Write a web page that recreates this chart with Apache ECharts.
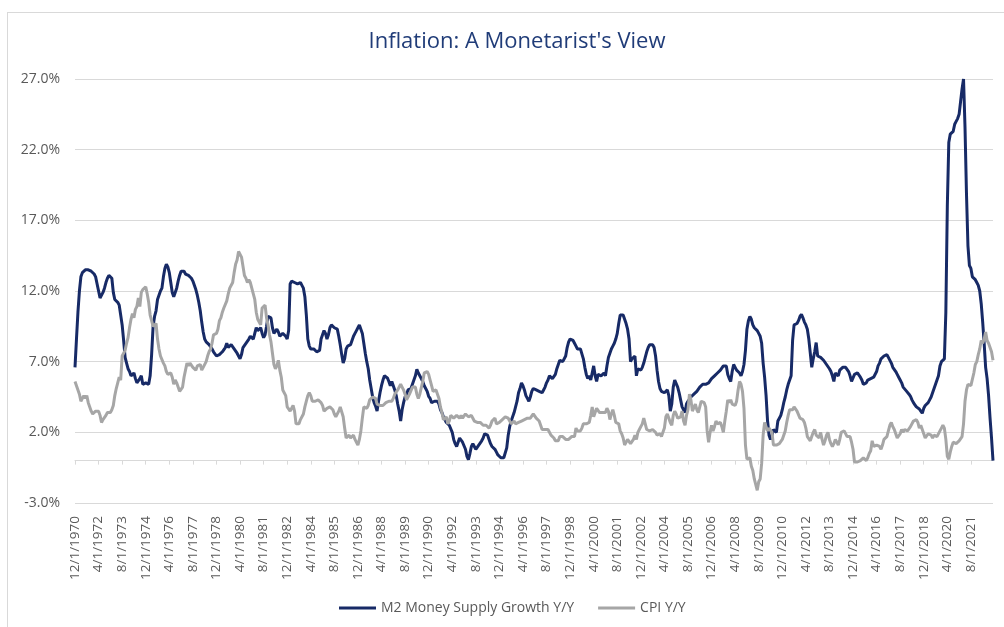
<!DOCTYPE html>
<html><head><meta charset="utf-8">
<script src="https://cdn.jsdelivr.net/npm/echarts@6/dist/echarts.min.js"></script>
<style>
html,body{margin:0;padding:0;background:#fff;overflow:hidden;width:1004px;height:627px;}
#frame{position:absolute;left:7px;top:12px;width:1100px;height:700px;border:1px solid #d9d9d9;}
#chart{position:absolute;left:0;top:0;width:1004px;height:627px;}
</style></head><body>
<div id="frame"></div>
<div id="chart"></div>
<script>
// Monthly series, Dec 1970 .. Nov 2022
const startYear = 1970;
const startMonth = 12;

const m2Growth = [
 6.6,
 8.6, 10.5, 12.0, 13.0, 13.3, 13.4, 13.5, 13.4, 13.5, 13.5, 13.4, 13.3,
 13.2, 13.0, 12.5, 12.0, 11.5, 11.6, 11.9, 12.2, 12.6, 12.9, 13.1, 13.1,
 12.9, 11.9, 11.4, 11.3, 11.2, 11.0, 10.3, 9.6, 8.5, 7.3, 6.9, 6.5,
 6.3, 6.0, 6.1, 6.2, 5.8, 5.5, 5.6, 5.8, 6.0, 5.4, 5.3, 5.5,
 5.6, 5.4, 6.0, 7.5, 9.5, 10.2, 10.6, 11.4, 11.7, 12.0, 12.2, 13.0,
 13.6, 13.9, 13.7, 13.3, 12.6, 11.9, 11.6, 11.7, 12.2, 12.7, 13.1, 13.4,
 13.5, 13.4, 13.2, 13.2, 13.1, 13.0, 12.9, 12.7, 12.4, 12.1, 11.7, 11.2,
 10.6, 9.8, 9.1, 8.6, 8.4, 8.3, 8.2, 8.1, 7.9, 7.7, 7.6, 7.4,
 7.4, 7.5, 7.6, 7.7, 7.8, 8.0, 8.3, 8.0, 8.1, 8.2, 8.1, 7.9,
 7.8, 7.6, 7.4, 7.2, 7.5, 8.0, 8.1, 8.3, 8.4, 8.6, 8.8, 8.8,
 8.6, 9.0, 9.4, 9.2, 9.1, 9.4, 9.0, 8.7, 8.9, 9.5, 10.2, 10.2,
 10.1, 9.4, 9.0, 9.0, 9.3, 9.1, 8.8, 8.8, 9.0, 8.9, 8.8, 8.6,
 9.2, 12.5, 12.7, 12.8, 12.6, 12.7, 12.5, 12.4, 12.6, 12.4, 12.2, 11.6,
 10.3, 8.6, 8.1, 7.9, 7.9, 7.9, 7.8, 7.7, 7.6, 7.8, 8.6, 8.9,
 9.2, 9.0, 8.6, 8.9, 9.4, 9.6, 9.5, 9.4, 9.3, 9.3, 8.8, 8.2,
 7.5, 6.9, 7.2, 7.9, 8.1, 8.2, 8.2, 8.5, 8.8, 9.0, 9.2, 9.4,
 9.6, 9.3, 9.0, 8.3, 7.6, 7.0, 6.5, 5.7, 5.1, 4.5, 4.1, 3.85,
 3.5, 4.2, 4.8, 5.3, 5.7, 6.0, 6.0, 5.85, 5.6, 5.3, 5.6, 5.3,
 5.0, 4.6, 4.0, 3.5, 2.8, 3.6, 4.1, 4.5, 4.7, 5.0, 5.0, 5.1,
 5.4, 5.7, 6.0, 6.45, 6.2, 6.0, 5.8, 5.6, 5.3, 5.1, 4.9, 4.55,
 4.4, 4.1, 4.2, 4.2, 4.1, 4.2, 4.0, 3.6, 3.4, 3.1, 2.9, 2.7,
 2.6, 2.5, 2.4, 2.0, 1.5, 1.2, 1.0, 1.3, 1.6, 1.5, 1.3, 1.2,
 0.8, 0.3, 0.06, 0.5, 1.0, 1.2, 1.0, 0.8, 0.9, 1.1, 1.2, 1.4,
 1.6, 1.9, 2.0, 1.8, 1.5, 1.2, 1.0, 0.9, 0.8, 0.6, 0.4, 0.3,
 0.2, 0.2, 0.2, 0.3, 0.9, 1.8, 2.4, 2.8, 3.1, 3.4, 3.8, 4.2,
 4.8, 5.1, 5.5, 5.3, 5.0, 4.6, 4.4, 4.2, 4.5, 4.9, 5.1, 5.0,
 5.0, 5.0, 4.9, 4.9, 4.8, 5.0, 5.2, 5.5, 5.7, 6.0, 6.0, 5.8,
 5.7, 6.1, 6.5, 6.8, 7.1, 7.1, 7.0, 7.1, 7.4, 8.0, 8.4, 8.6,
 8.6, 8.5, 8.3, 8.1, 7.9, 8.0, 7.9, 7.8, 7.2, 6.6, 6.1, 5.8,
 6.0, 5.7, 5.6, 6.7, 6.0, 5.6, 6.1, 6.1, 6.0, 6.0, 6.2, 6.0,
 6.7, 7.3, 7.6, 7.9, 8.1, 8.3, 8.6, 9.0, 9.7, 10.3, 10.3, 10.3,
 10.0, 9.7, 9.3, 8.6, 7.0, 7.2, 7.3, 7.4, 6.0, 6.5, 6.6, 6.4,
 6.6, 6.9, 7.3, 7.7, 8.0, 8.2, 8.3, 8.2, 8.0, 7.4, 6.4, 5.6,
 5.1, 4.9, 4.8, 4.8, 4.9, 5.0, 4.6, 3.5, 4.0, 5.2, 5.7, 5.6,
 5.2, 4.8, 4.3, 3.8, 3.6, 3.4, 4.0, 4.2, 4.3, 4.5, 4.6, 4.7,
 4.8, 4.9, 5.0, 5.2, 5.3, 5.4, 5.4, 5.4, 5.4, 5.5, 5.6, 5.8,
 5.9, 6.0, 6.1, 6.2, 6.3, 6.4, 6.5, 6.7, 6.8, 6.7, 6.1, 5.8,
 5.6, 6.3, 6.8, 6.6, 6.4, 6.3, 6.2, 6.0, 6.3, 6.8, 7.8, 9.3,
 9.9, 10.2, 10.0, 9.6, 9.4, 9.3, 9.2, 9.0, 8.8, 8.3, 6.9, 5.9,
 4.6, 2.8, 1.8, 1.5, 1.8, 2.2, 2.1, 2.0, 2.8, 3.0, 3.2, 3.6,
 4.1, 4.5, 5.0, 5.4, 5.7, 6.0, 8.5, 9.6, 9.6, 9.7, 9.9, 10.2,
 10.35, 10.1, 9.8, 9.6, 9.3, 8.6, 7.6, 6.6, 7.2, 7.7, 8.35, 7.4,
 7.5, 7.3, 7.2, 7.1, 7.0, 6.8, 6.7, 6.5, 6.3, 6.0, 5.6, 6.2,
 6.1, 6.0, 6.4, 6.5, 6.6, 6.6, 6.6, 6.5, 6.3, 6.0, 5.6, 5.7,
 6.1, 6.2, 6.2, 6.1, 5.9, 5.7, 5.4, 5.4, 5.5, 5.7, 5.7, 5.8,
 5.8, 5.9, 6.0, 6.3, 6.7, 6.9, 7.2, 7.3, 7.4, 7.5, 7.5, 7.3,
 7.2, 6.9, 6.6, 6.5, 6.3, 6.1, 5.9, 5.7, 5.5, 5.2, 5.1, 4.95,
 4.85, 4.7, 4.55, 4.3, 4.1, 3.95, 3.8, 3.7, 3.65, 3.5, 3.35, 3.7,
 3.9, 4.0, 4.1, 4.3, 4.5, 4.8, 5.1, 5.4, 5.7, 6.0, 6.7, 7.0,
 6.9, 7.2, 10.5, 18.0, 22.5, 23.1, 23.2, 23.3, 23.8, 24.0, 24.2, 24.5,
 25.4, 26.3, 27.0, 23.6, 18.9, 15.2, 13.8, 13.6, 13.0, 12.9, 12.8, 12.6,
 12.4, 12.0, 11.1, 9.8, 8.3, 6.6, 5.8, 4.6, 3.0, 1.6, 0.0
];

const cpiYoY = [
 5.6,
 5.3, 5.0, 4.7, 4.2, 4.4, 4.6, 4.4, 4.6, 4.1, 3.8, 3.5, 3.3,
 3.3, 3.5, 3.5, 3.5, 3.2, 2.7, 2.9, 2.9, 3.2, 3.4, 3.5, 3.4,
 3.6, 3.9, 4.6, 5.1, 5.5, 5.9, 5.7, 7.4, 7.4, 7.8, 8.3, 8.7,
 9.4, 10.0, 10.4, 10.1, 10.7, 10.9, 11.5, 10.9, 11.9, 12.1, 12.2, 12.3,
 11.8, 11.2, 10.3, 10.2, 9.5, 9.4, 9.7, 8.6, 7.9, 7.4, 7.4, 6.9,
 6.7, 6.3, 6.1, 6.0, 6.2, 5.9, 5.4, 5.7, 5.5, 5.5, 4.9, 4.9,
 5.2, 5.9, 6.4, 6.9, 6.7, 6.9, 6.8, 6.6, 6.6, 6.4, 6.7, 6.7,
 6.8, 6.4, 6.6, 6.5, 7.0, 7.4, 7.7, 7.9, 8.3, 8.9, 8.9, 9.0,
 9.3, 9.9, 10.1, 10.5, 10.8, 10.9, 11.3, 11.8, 12.2, 12.1, 12.6, 13.3,
 13.9, 14.2, 14.8, 14.7, 14.4, 14.4, 13.1, 12.9, 12.6, 12.8, 12.6, 12.5,
 11.8, 11.4, 10.5, 10.0, 9.8, 9.6, 10.8, 10.8, 11.0, 10.1, 9.6, 8.9,
 8.4, 7.6, 6.8, 6.5, 6.7, 7.1, 6.4, 5.9, 5.0, 5.1, 4.6, 3.8,
 3.7, 3.5, 3.6, 3.9, 3.5, 2.6, 2.5, 2.6, 2.9, 2.9, 3.3, 3.8,
 4.2, 4.6, 4.8, 4.6, 4.2, 4.2, 4.2, 4.3, 4.3, 4.3, 4.1, 3.9,
 3.5, 3.5, 3.7, 3.7, 3.8, 3.8, 3.6, 3.3, 3.1, 3.2, 3.5, 3.8,
 3.9, 3.1, 2.3, 1.6, 1.5, 1.8, 1.6, 1.6, 1.8, 1.5, 1.3, 1.1,
 1.5, 2.1, 3.0, 3.8, 3.9, 3.7, 3.9, 4.3, 4.4, 4.5, 4.5, 4.4,
 4.0, 3.9, 3.9, 3.9, 3.9, 4.0, 4.1, 4.0, 4.2, 4.2, 4.2, 4.4,
 4.7, 4.8, 5.0, 5.1, 5.4, 5.2, 5.0, 4.7, 4.3, 4.5, 4.7, 4.6,
 5.2, 5.3, 5.2, 4.7, 4.4, 4.7, 4.8, 5.6, 6.2, 6.3, 6.3, 6.1,
 5.7, 5.3, 4.9, 4.9, 5.0, 4.7, 4.4, 3.8, 3.4, 2.9, 3.0, 3.1,
 2.6, 2.8, 3.2, 3.2, 3.0, 3.1, 3.2, 3.1, 3.0, 3.2, 3.0, 2.9,
 3.3, 3.2, 3.1, 3.2, 3.2, 3.0, 2.8, 2.8, 2.7, 2.8, 2.7, 2.7,
 2.5, 2.5, 2.5, 2.4, 2.3, 2.5, 2.8, 2.9, 3.0, 2.6, 2.7, 2.7,
 2.8, 2.9, 2.9, 3.1, 3.2, 3.0, 2.8, 2.6, 2.5, 2.8, 2.6, 2.5,
 2.7, 2.7, 2.8, 2.9, 2.9, 2.8, 3.0, 2.9, 3.0, 3.0, 3.3, 3.3,
 3.0, 3.0, 2.8, 2.5, 2.2, 2.3, 2.2, 2.2, 2.2, 2.1, 1.8, 1.7,
 1.6, 1.4, 1.4, 1.4, 1.7, 1.7, 1.7, 1.6, 1.5, 1.5, 1.5, 1.6,
 1.7, 1.6, 1.7, 2.3, 2.1, 2.0, 2.1, 2.3, 2.6, 2.6, 2.6, 2.7,
 2.7, 3.2, 3.8, 3.1, 3.2, 3.7, 3.7, 3.4, 3.5, 3.4, 3.4, 3.4,
 3.7, 3.5, 2.9, 3.3, 3.6, 3.2, 2.7, 2.7, 2.6, 2.1, 1.9, 1.6,
 1.1, 1.1, 1.5, 1.6, 1.2, 1.1, 1.5, 1.8, 1.5, 2.0, 2.2, 2.4,
 2.6, 3.0, 3.0, 2.2, 2.1, 2.1, 2.1, 2.2, 2.3, 2.0, 1.8, 1.9,
 1.9, 1.7, 1.7, 2.3, 3.1, 3.3, 3.0, 2.7, 2.5, 3.2, 3.5, 3.3,
 3.0, 3.0, 3.1, 3.5, 2.8, 2.5, 3.2, 3.6, 4.7, 4.3, 3.5, 3.4,
 4.0, 3.6, 3.4, 3.5, 4.2, 4.3, 4.1, 3.8, 2.1, 1.3, 2.0, 2.5,
 2.1, 2.4, 2.8, 2.6, 2.7, 2.7, 2.4, 2.0, 2.8, 3.5, 4.3, 4.1,
 4.3, 4.0, 4.0, 3.9, 4.2, 5.0, 5.6, 5.4, 4.9, 3.7, 1.1, 0.1,
 0.0, 0.2, -0.4, -0.7, -1.3, -1.4, -2.1, -1.5, -1.3, -0.2, 1.8, 2.7,
 2.6, 2.1, 2.3, 2.2, 2.0, 1.1, 1.2, 1.1, 1.1, 1.2, 1.1, 1.5,
 1.6, 2.1, 2.7, 3.2, 3.6, 3.6, 3.6, 3.8, 3.9, 3.5, 3.4, 3.0,
 2.9, 2.9, 2.7, 2.3, 1.7, 1.7, 1.4, 1.7, 2.0, 2.2, 1.8, 1.7,
 1.6, 2.0, 1.5, 1.1, 1.4, 1.8, 2.0, 1.5, 1.2, 1.0, 1.2, 1.5,
 1.6, 1.1, 1.5, 2.0, 2.1, 2.1, 2.0, 1.7, 1.7, 1.7, 1.3, 0.8,
 -0.1, 0.0, -0.1, -0.2, 0.0, 0.1, 0.2, 0.2, 0.0, 0.2, 0.5, 0.7,
 1.4, 1.0, 0.9, 1.1, 1.0, 1.0, 0.8, 1.1, 1.5, 1.6, 1.7, 2.1,
 2.5, 2.7, 2.4, 2.2, 1.9, 1.6, 1.7, 1.9, 2.2, 2.0, 2.2, 2.1,
 2.1, 2.2, 2.4, 2.5, 2.8, 2.9, 2.9, 2.7, 2.3, 2.5, 2.2, 1.9,
 1.6, 1.5, 1.9, 2.0, 1.8, 1.6, 1.8, 1.7, 1.7, 1.8, 2.1, 2.3,
 2.5, 2.3, 1.5, 0.3, 0.1, 0.6, 1.0, 1.3, 1.4, 1.2, 1.2, 1.4,
 1.4, 1.7, 2.6, 4.2, 5.0, 5.4, 5.4, 5.3, 5.4, 6.2, 6.8, 7.0,
 7.5, 7.9, 8.5, 8.3, 8.6, 9.1, 8.5, 8.3, 8.2, 7.7, 7.1
];

const seriesNames = ['M2 Money Supply Growth Y/Y', 'CPI Y/Y'];
const yAxisMin = -3, yAxisMax = 27, yAxisStep = 5;
const labelEvery = 16; // months between category labels

const categories = [];
for (let i = 0; i < m2Growth.length; i++) {
  const t = startMonth - 1 + i;
  categories.push((t % 12 + 1) + '/1/' + (startYear + Math.floor(t / 12)));
}

const GRID_TOP = 79, GRID_BOTTOM = 124, H = 627;
const plotH = H - GRID_TOP - GRID_BOTTOM;
// distance of the zero line above the bottom of the plot
const zeroOffset = plotH * (0 - yAxisMin) / (yAxisMax - yAxisMin);

const FONT = 'Open Sans';
const chart = echarts.init(document.getElementById('chart'), null, {renderer: 'canvas'});
chart.setOption({
  animation: false,
  backgroundColor: 'transparent',
  title: {
    text: "Inflation: A Monetarist's View",
    left: 512, textAlign: 'center', top: 26,
    textStyle: {fontFamily: FONT, fontSize: 22, fontWeight: 'normal', color: '#203C78'}
  },
  legend: {
    data: seriesNames,
    left: 334, top: 596,
    icon: 'rect', itemWidth: 37, itemHeight: 3, itemGap: 24,
    textStyle: {fontFamily: FONT, fontSize: 14, color: '#595959'}
  },
  grid: {left: 75, right: 11, top: GRID_TOP, bottom: GRID_BOTTOM},
  xAxis: [
    {
      type: 'category', data: categories, boundaryGap: false, position: 'bottom',
      axisLine: {show: false, onZero: false}, axisTick: {show: false},
      axisLabel: {interval: labelEvery - 1, rotate: 90, margin: 13, color: '#595959', fontFamily: FONT, fontSize: 13.5},
      splitLine: {show: false}
    },
    {
      type: 'category', data: categories, boundaryGap: false, position: 'bottom',
      offset: -zeroOffset,
      axisLine: {show: true, onZero: false, lineStyle: {color: '#d9d9d9', width: 1}},
      axisTick: {show: true, inside: false, interval: labelEvery - 1, length: 4, lineStyle: {color: '#d9d9d9'}},
      axisLabel: {show: false}, splitLine: {show: false}
    }
  ],
  yAxis: {
    type: 'value', min: yAxisMin, max: yAxisMax, interval: yAxisStep,
    axisLine: {show: false}, axisTick: {show: false},
    axisLabel: {formatter: v => v.toFixed(1) + '%', margin: 15, color: '#595959', fontFamily: FONT, fontSize: 14},
    splitLine: {lineStyle: {color: '#d9d9d9', width: 1}}
  },
  series: [
    {
      name: seriesNames[0], type: 'line', data: m2Growth, xAxisIndex: 0,
      showSymbol: false, symbol: 'none', smooth: false,
      lineStyle: {color: '#172A66', width: 3}, itemStyle: {color: '#172A66'}
    },
    {
      name: seriesNames[1], type: 'line', data: cpiYoY, xAxisIndex: 0,
      showSymbol: false, symbol: 'none', smooth: false,
      lineStyle: {color: '#A6A6A6', width: 3}, itemStyle: {color: '#A6A6A6'}
    }
  ]
});
</script>
</body></html>
